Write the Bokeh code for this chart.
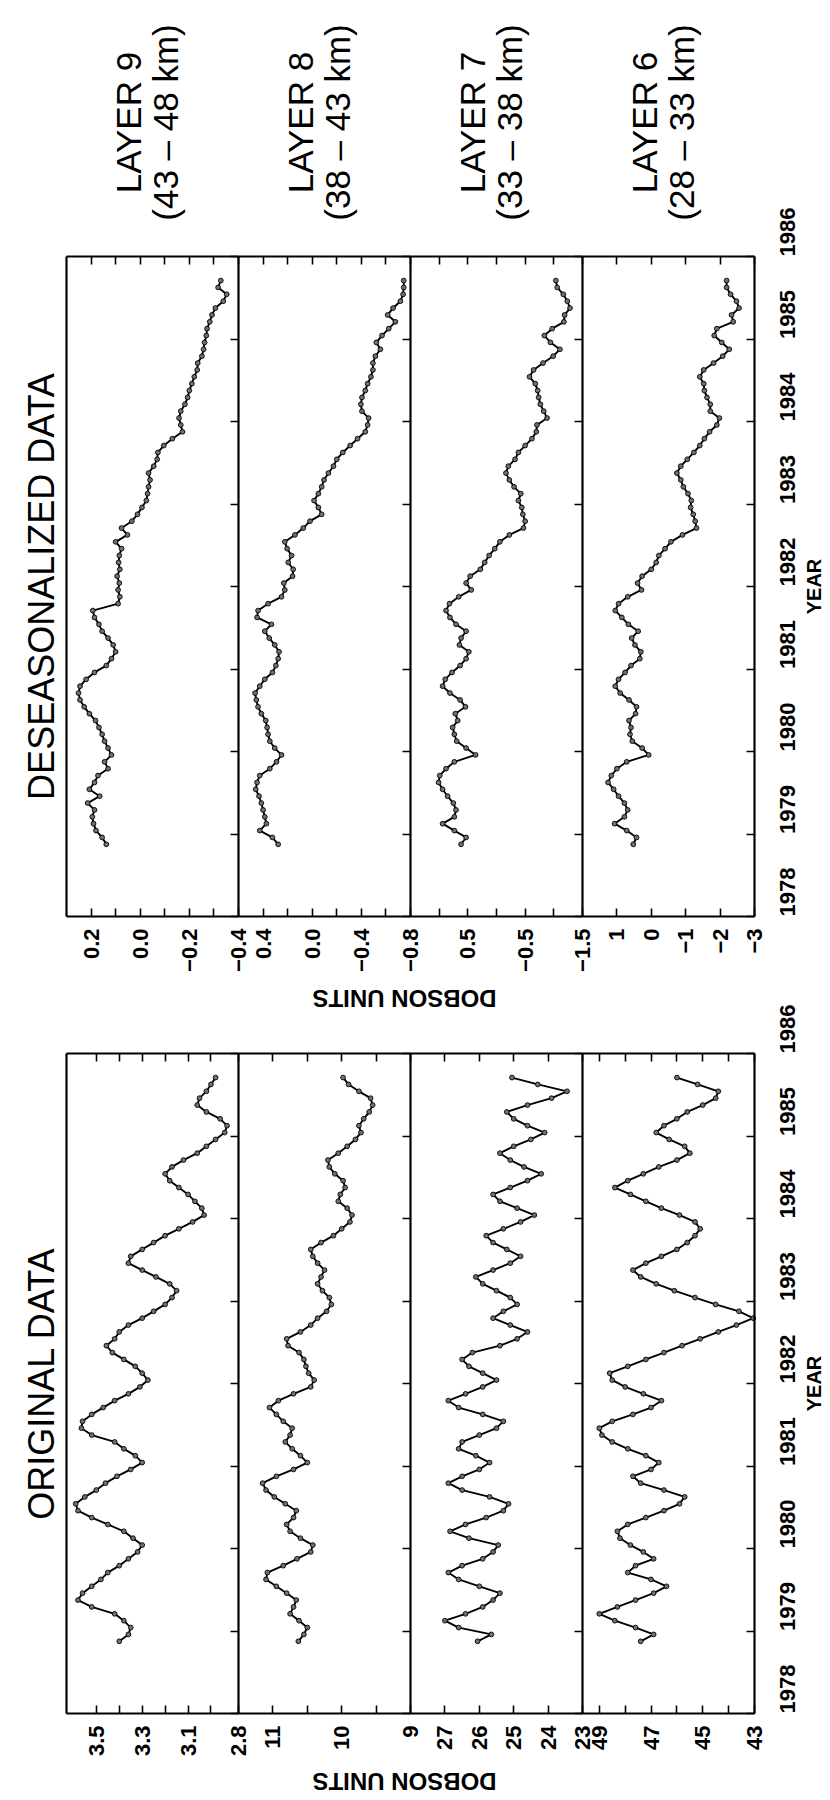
import math
from bokeh.plotting import figure
from bokeh.models import Range1d, LinearAxis, FixedTicker, Label, ColumnDataSource, CustomJSTickFormatter
from bokeh.embed import file_html
from bokeh.resources import INLINE

# monthly time base: Nov 1978 .. Sep 1985
MONTHS = [1978 + (10.5 + k) / 12 for k in range(83)]

DES_L9 = [0.138, 0.155, 0.18, 0.19, 0.195, 0.186, 0.214, 0.165, 0.207, 0.186,
          0.172, 0.131, 0.145, 0.117, 0.131, 0.145, 0.155, 0.168, 0.182, 0.207,
          0.228, 0.245, 0.251, 0.245, 0.22, 0.186, 0.138, 0.117, 0.1, 0.11,
          0.131, 0.155, 0.168, 0.186, 0.193, 0.09, 0.083, 0.09, 0.085, 0.094,
          0.083, 0.088, 0.085, 0.076, 0.1, 0.052, 0.076, 0.034, 0.011, -0.007,
          -0.025, -0.03, -0.034, -0.04, -0.034, -0.055, -0.069, -0.072, -0.096, -0.131,
          -0.172, -0.165, -0.158, -0.165, -0.182, -0.193, -0.2, -0.21, -0.22, -0.232,
          -0.234, -0.251, -0.258, -0.262, -0.269, -0.272, -0.283, -0.292, -0.306, -0.338,
          -0.352, -0.317, -0.328]
DES_L8 = [0.277, 0.324, 0.427, 0.373, 0.386, 0.4, 0.414, 0.433, 0.46, 0.449,
          0.427, 0.345, 0.291, 0.25, 0.305, 0.345, 0.359, 0.367, 0.378, 0.414,
          0.441, 0.455, 0.465, 0.427, 0.386, 0.324, 0.296, 0.277, 0.27, 0.305,
          0.35, 0.386, 0.332, 0.449, 0.441, 0.359, 0.25, 0.223, 0.231, 0.16,
          0.155, 0.195, 0.168, 0.204, 0.223, 0.141, 0.073, 0.018, -0.077, -0.05,
          -0.015, -0.05, -0.077, -0.096, -0.132, -0.173, -0.2, -0.249, -0.309, -0.369,
          -0.432, -0.451, -0.459, -0.405, -0.396, -0.405, -0.432, -0.451, -0.478, -0.494,
          -0.494, -0.514, -0.555, -0.522, -0.568, -0.623, -0.677, -0.614, -0.658, -0.718,
          -0.74, -0.745, -0.745]
DES_L7 = [0.618, 0.53, 0.735, 0.94, 0.735, 0.706, 0.753, 0.853, 0.94, 1.01,
          0.99, 0.88, 0.735, 0.365, 0.53, 0.694, 0.735, 0.765, 0.676, 0.718,
          0.541, 0.635, 0.812, 0.94, 0.894, 0.776, 0.635, 0.53, 0.482, 0.647,
          0.618, 0.53, 0.706, 0.812, 0.88, 0.82, 0.659, 0.441, 0.53, 0.459,
          0.282, 0.206, 0.129, 0.03, -0.059, -0.224, -0.47, -0.5, -0.459, -0.441,
          -0.382, -0.424, -0.306, -0.224, -0.165, -0.206, -0.324, -0.382, -0.5, -0.618,
          -0.694, -0.706, -0.882, -0.824, -0.765, -0.735, -0.718, -0.676, -0.576, -0.647,
          -0.812, -0.988, -1.106, -0.941, -0.835, -0.971, -1.176, -1.188, -1.282, -1.235,
          -1.165, -1.059, -1.035]
DES_L6 = [0.524, 0.429, 0.714, 1.067, 0.781, 0.686, 0.781, 0.952, 1.095, 1.257,
          1.162, 1.0, 0.714, 0.076, 0.267, 0.552, 0.619, 0.59, 0.648, 0.457,
          0.429, 0.648, 0.905, 1.048, 0.952, 0.762, 0.59, 0.333, 0.305, 0.476,
          0.571, 0.381, 0.667, 0.857, 1.048, 0.952, 0.686, 0.286, 0.4, 0.267,
          0.0, -0.143, -0.219, -0.4, -0.571, -0.905, -1.314, -1.276, -1.219, -1.143,
          -1.162, -1.067, -0.933, -0.857, -0.743, -0.857, -1.048, -1.238, -1.41, -1.543,
          -1.695, -1.905, -1.98, -1.714, -1.714, -1.619, -1.543, -1.524, -1.41, -1.524,
          -1.81, -2.076, -2.267, -2.048, -1.829, -1.905, -2.381, -2.333, -2.552, -2.476,
          -2.305, -2.19, -2.19]

ORIG_L9 = [3.40, 3.36, 3.35, 3.38, 3.42, 3.52, 3.58, 3.56, 3.52, 3.48,
           3.45, 3.40, 3.36, 3.32, 3.30, 3.34, 3.38, 3.45, 3.52, 3.58,
           3.59, 3.55, 3.50, 3.46, 3.41, 3.35, 3.30, 3.33, 3.38, 3.42,
           3.52, 3.565, 3.56, 3.52, 3.47, 3.42, 3.36, 3.31, 3.275, 3.30,
           3.33, 3.38, 3.43, 3.456, 3.42, 3.40, 3.36, 3.30, 3.25, 3.20,
           3.17, 3.15, 3.18, 3.24, 3.30, 3.36, 3.35, 3.30, 3.25, 3.20,
           3.14, 3.08, 3.03, 3.04, 3.07, 3.10, 3.14, 3.18, 3.20, 3.17,
           3.12, 3.06, 3.02, 2.98, 2.94, 2.93, 2.96, 3.02, 3.06, 3.05,
           3.02, 3.00, 2.98]
ORIG_L8 = [10.63, 10.55, 10.50, 10.62, 10.75, 10.70, 10.66, 10.80, 10.95, 11.10,
           11.08, 10.85, 10.65, 10.45, 10.42, 10.60, 10.75, 10.80, 10.70, 10.66,
           10.82, 10.98, 11.10, 11.15, 10.95, 10.70, 10.50, 10.60, 10.72, 10.82,
           10.75, 10.72, 10.85, 10.95, 11.05, 10.92, 10.70, 10.45, 10.40, 10.48,
           10.52, 10.55, 10.62, 10.78, 10.80, 10.60, 10.45, 10.35, 10.22, 10.15,
           10.18, 10.28, 10.35, 10.30, 10.25, 10.35, 10.42, 10.45, 10.30, 10.12,
           10.00, 9.88, 9.85, 9.92, 10.05, 10.02, 9.95, 9.98, 10.10, 10.18,
           10.20, 10.05, 9.92, 9.80, 9.72, 9.75, 9.68, 9.60, 9.55, 9.58,
           9.75, 9.90, 9.98]
ORIG_L7 = [26.05, 25.65, 26.6, 27.0, 26.4, 25.9, 25.6, 25.4, 26.0, 26.6,
           26.9, 26.5, 25.9, 25.6, 25.45, 26.3, 26.85, 26.4, 25.8, 25.3,
           25.15, 25.7, 26.5, 26.9, 26.5, 26.0, 25.7, 26.1, 26.6, 26.5,
           26.0, 25.5, 25.3, 25.9, 26.6, 26.9, 26.4, 25.9, 25.5, 25.9,
           26.3, 26.5, 26.2, 25.4, 24.9, 24.6, 25.1, 25.6, 25.3, 24.9,
           25.1, 25.5, 25.9, 26.1, 25.6, 25.1, 24.8, 25.2, 25.6, 25.8,
           25.3, 24.8, 24.4, 24.9, 25.4, 25.6, 25.1, 24.6, 24.2, 24.7,
           25.1, 25.4, 25.0, 24.5, 24.1, 24.6, 25.0, 25.2, 24.6, 23.9,
           23.45, 24.3, 25.05]
ORIG_L6 = [47.4, 46.9, 47.6, 48.4, 49.0, 48.3, 47.6, 46.9, 46.4, 47.0,
           47.9, 47.6, 46.9, 47.3, 47.8, 48.2, 48.3, 47.9, 47.2, 46.5,
           45.9, 45.7, 46.5, 47.4, 47.7, 47.0, 46.7, 47.2, 47.9, 48.5,
           48.9, 49.0, 48.5, 47.7, 47.0, 46.6, 47.3, 48.0, 48.5, 48.6,
           47.9, 47.2, 46.5, 45.8, 45.1, 44.4, 43.7, 43.05, 43.6, 44.5,
           45.3, 46.1, 46.8, 47.4, 47.7, 47.2, 46.6, 46.0, 45.6, 45.3,
           45.1, 45.3, 45.9, 46.6, 47.2, 47.8, 48.4, 47.9, 47.3, 46.7,
           46.0, 45.5, 45.7, 46.3, 46.8, 46.5, 46.0, 45.6, 45.0, 44.5,
           44.4, 45.2, 46.0]

LAYER_NAMES = ["LAYER 9", "LAYER 8", "LAYER 7", "LAYER 6"]
LAYER_KM = ["(43 \u2013 48 km)", "(38 \u2013 43 km)", "(33 \u2013 38 km)", "(28 \u2013 33 km)"]
YEARS = [1978, 1979, 1980, 1981, 1982, 1983, 1984, 1985, 1986]

DES_LIMITS = [(0.3, -0.4), (0.6, -0.8), (1.5, -1.5), (2.0, -3.0)]
DES_MAJOR = [[0.2, 0.0, -0.2, -0.4], [0.4, 0.0, -0.4, -0.8], [0.5, -0.5, -1.5], [1, 0, -1, -2, -3]]
DES_MINOR = [[0.1, -0.1, -0.3], [0.2, -0.2, -0.6], [1.0, 0.0, -1.0], []]
DES_TEXT = [["0.2", "0.0", "\u22120.2", "\u22120.4"], ["0.4", "0.0", "\u22120.4", "\u22120.8"],
            ["0.5", "\u22120.5", "\u22121.5"], ["1", "0", "\u22121", "\u22122", "\u22123"]]

ORIG_LIMITS = [(3.63, 2.88), (11.5, 9.0), (28.0, 23.0), (49.65, 43.0)]
ORIG_MAJOR = [[3.5, 3.3, 3.1, 2.88], [11, 10, 9], [27, 26, 25, 24, 23], [49, 47, 45, 43]]
ORIG_MINOR = [[3.4, 3.2, 3.0], [10.5, 9.5], [], [48, 46, 44]]
ORIG_TEXT = [["3.5", "3.3", "3.1", "2.8"], ["11", "10", "9"],
             ["27", "26", "25", "24", "23"], ["49", "47", "45", "43"]]

FONT = "Liberation Sans"
W, H = 830, 1798
PANEL_X = [66, 238, 410, 582, 754]
PANEL_W = 172

p = figure(width=W, height=H, x_range=Range1d(0, W), y_range=Range1d(H, 0),
           output_backend="svg", toolbar_location=None,
           x_axis_location=None, y_axis_location=None, min_border=0)
for g in p.grid:
    g.visible = False
p.outline_line_color = None
p.background_fill_color = "white"
p.border_fill_color = "white"


def empty_fmt():
    return CustomJSTickFormatter(code="return ''")


def add_text(x, y, text, size, angle, bold=False):
    p.add_layout(Label(x=x, y=y, text=text, angle=angle, text_align="center",
                       text_baseline="middle", text_font=FONT, text_font_size=size,
                       text_font_style="bold" if bold else "normal", text_color="black"))


def add_group(tag, y0, y1, series, limits, majors, minors, texts, title, dobson_y):
    ypp = 8.0 / (y1 - y0)
    yname = tag + "_yr"
    p.extra_y_ranges[yname] = Range1d(1978 - (H - y1) * ypp, 1986 + y0 * ypp)
    for k in range(4):
        vmax, vmin = limits[k]
        xpp = (vmax - vmin) / PANEL_W
        X = PANEL_X[k]
        xname = "%s_p%d" % (tag, k)
        p.extra_x_ranges[xname] = Range1d(vmax + X * xpp, vmax - (W - X) * xpp)

        src = ColumnDataSource(dict(v=series[k], t=MONTHS))
        p.line("v", "t", source=src, x_range_name=xname, y_range_name=yname,
               line_color="black", line_width=1.9)
        p.scatter("v", "t", source=src, x_range_name=xname, y_range_name=yname, size=4.8,
                  fill_color="#707070", line_color="black", line_width=0.9)

        common = dict(x_range_name=xname, y_range_name=yname, bounds=(vmin, vmax),
                      axis_line_color="black", axis_line_width=2.2,
                      major_tick_in=8, major_tick_out=0, minor_tick_in=8, minor_tick_out=0,
                      major_tick_line_width=1.6, minor_tick_line_width=1.6)
        bot = LinearAxis(ticker=FixedTicker(ticks=majors[k], minor_ticks=minors[k]),
                         fixed_location=1978,
                         major_label_orientation=math.pi / 2, major_label_standoff=12,
                         major_label_overrides=dict(zip(majors[k], texts[k])),
                         major_label_text_font=FONT, major_label_text_font_size="22px",
                         major_label_text_font_style="bold", major_label_text_color="black",
                         **common)
        p.add_layout(bot, "below")
        top = LinearAxis(ticker=FixedTicker(ticks=majors[k], minor_ticks=minors[k]),
                         fixed_location=1986, formatter=empty_fmt(), **common)
        p.add_layout(top, "above")

        side = dict(x_range_name=xname, y_range_name=yname, bounds=(1978, 1986),
                    ticker=FixedTicker(ticks=YEARS), fixed_location=vmin,
                    axis_line_color="black", axis_line_width=2.2,
                    major_tick_in=8, major_tick_out=0, major_tick_line_width=1.6,
                    minor_tick_line_color=None)
        if k == 3:
            yax = LinearAxis(major_label_orientation=math.pi / 2, major_label_standoff=33,
                             major_label_text_font=FONT, major_label_text_font_size="22px",
                             major_label_text_font_style="bold", major_label_text_color="black",
                             **side)
        else:
            yax = LinearAxis(formatter=empty_fmt(), **side)
        p.add_layout(yax, "right")
        if k == 0:
            lax = LinearAxis(x_range_name=xname, y_range_name=yname, bounds=(1978, 1986),
                             ticker=FixedTicker(ticks=[]), fixed_location=vmax,
                             formatter=empty_fmt(), axis_line_color="black", axis_line_width=2.2,
                             major_tick_line_color=None, minor_tick_line_color=None)
            p.add_layout(lax, "left")

    add_text(41, (y0 + y1) / 2, title, "36px", math.pi / 2)
    add_text(813, (y0 + y1) / 2, "YEAR", "20px", math.pi / 2, bold=True)
    add_text(404, dobson_y, "DOBSON UNITS", "24px", math.pi, bold=True)


add_group("des", 256, 916, [DES_L9, DES_L8, DES_L7, DES_L6], DES_LIMITS, DES_MAJOR, DES_MINOR,
          DES_TEXT, "DESEASONALIZED DATA", 998)
add_group("orig", 1053, 1713, [ORIG_L9, ORIG_L8, ORIG_L7, ORIG_L6], ORIG_LIMITS, ORIG_MAJOR,
          ORIG_MINOR, ORIG_TEXT, "ORIGINAL DATA", 1781)

for k in range(4):
    cx = PANEL_X[k] + PANEL_W / 2
    add_text(cx - 24, 122, LAYER_NAMES[k], "35px", math.pi / 2)
    add_text(cx + 13, 122, LAYER_KM[k], "35px", math.pi / 2)

open("out.html", "w").write(file_html(p, INLINE))
